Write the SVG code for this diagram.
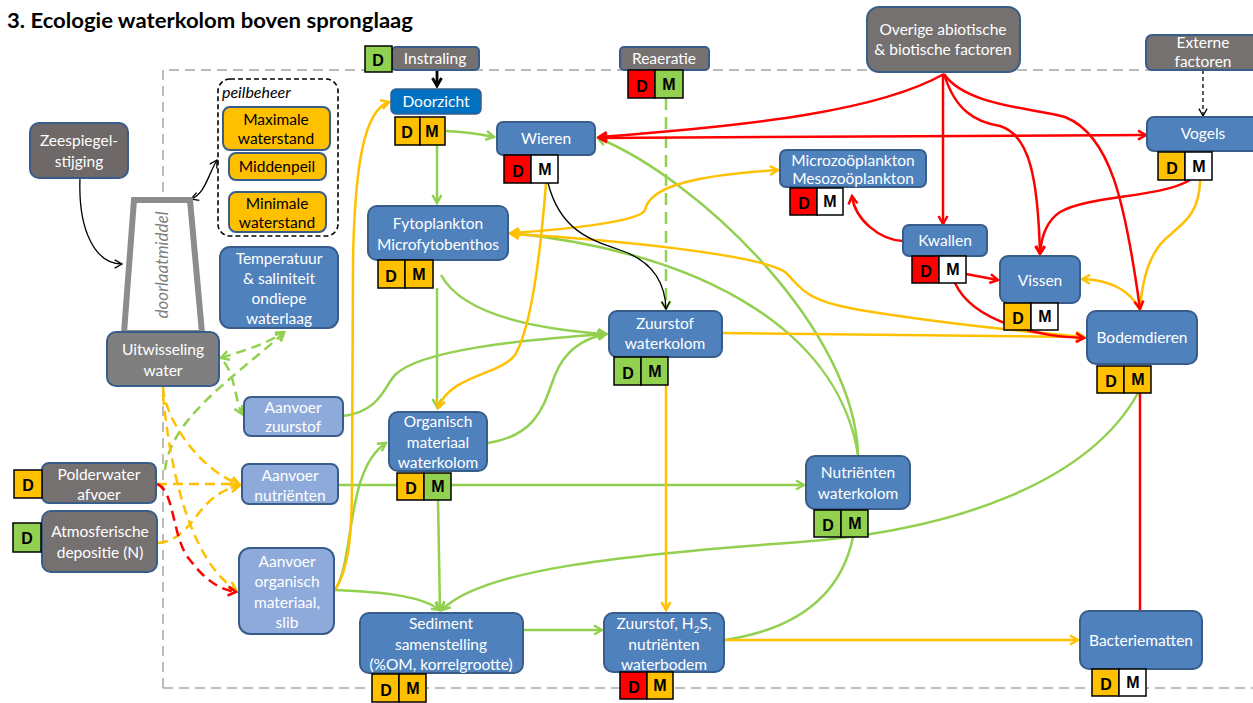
<svg xmlns="http://www.w3.org/2000/svg" width="1253" height="703" viewBox="0 0 1253 703">
<style>
.bg{fill:#fff}
.g{fill:none;stroke:#92d050;stroke-width:2.5}
.y{fill:none;stroke:#ffc000;stroke-width:2.5}
.r{fill:none;stroke:#ff0000;stroke-width:2.5}
.k{fill:none;stroke:#000;stroke-width:1.3}
.dash{stroke-dasharray:10 6}
.blue{fill:#4f81bd;stroke:#385d8a;stroke-width:2}
.lblue{fill:#8eaadb;stroke:#385d8a;stroke-width:2}
.gray{fill:#767171;stroke:#385d8a;stroke-width:2}
.org{fill:#ffc000;stroke:#385d8a;stroke-width:2}
.t{font-family:Lato,"Liberation Sans",sans-serif;font-size:15.5px;fill:#fff;text-anchor:middle}
.tk{font-family:Lato,"Liberation Sans",sans-serif;font-size:15.5px;fill:#000;text-anchor:middle}
.bx{stroke:#000;stroke-width:1.5}
.fo{fill:#ffc000}.fg{fill:#92d050}.fr{fill:#ff0000}.fw{fill:#fff}
.dm{font-family:"Liberation Sans",sans-serif;font-weight:bold;font-size:16px;fill:#000;text-anchor:middle}
</style>
<defs>
<marker id="ag" viewBox="0 0 12 12" refX="10" refY="6" markerWidth="12" markerHeight="12" markerUnits="userSpaceOnUse" orient="auto-start-reverse"><path d="M2,1.5 L10,6 L2,10.5" fill="none" stroke="#92d050" stroke-width="2.5"/></marker>
<marker id="ay" viewBox="0 0 12 12" refX="10" refY="6" markerWidth="12" markerHeight="12" markerUnits="userSpaceOnUse" orient="auto-start-reverse"><path d="M2,1.5 L10,6 L2,10.5" fill="none" stroke="#ffc000" stroke-width="2.5"/></marker>
<marker id="ar" viewBox="0 0 12 12" refX="10" refY="6" markerWidth="12" markerHeight="12" markerUnits="userSpaceOnUse" orient="auto-start-reverse"><path d="M2,1.5 L10,6 L2,10.5" fill="none" stroke="#ff0000" stroke-width="2.5"/></marker>
<marker id="ak" viewBox="0 0 12 12" refX="10" refY="6" markerWidth="11" markerHeight="11" markerUnits="userSpaceOnUse" orient="auto-start-reverse"><path d="M2,1.5 L10,6 L2,10.5" fill="none" stroke="#000" stroke-width="1.4"/></marker>
<marker id="akb" viewBox="0 0 12 12" refX="10" refY="6" markerWidth="12" markerHeight="12" markerUnits="userSpaceOnUse" orient="auto"><path d="M2,1.5 L10,6 L2,10.5" fill="none" stroke="#000" stroke-width="2.8"/></marker>
</defs>
<rect class="bg" x="0" y="0" width="1253" height="703"/>
<text x="7" y="28" font-family="Lato,'Liberation Sans',sans-serif" font-weight="bold" font-size="20.5" fill="#000" textLength="406" lengthAdjust="spacingAndGlyphs">3. Ecologie waterkolom boven spronglaag</text>

<g id="boundary">
<path d="M163,688 L163,70 L1253,70 M163,688 L1253,688" fill="none" stroke="#a6a6a6" stroke-width="1.5" stroke-dasharray="10 6"/>
</g>

<g id="connectors">
<!-- green -->
<path class="g" d="M446,131 Q470,132 494,137" marker-end="url(#ag)"/>
<path class="g" d="M437,145 L437,203" marker-end="url(#ag)"/>
<path class="g" d="M437,288 L437,407" marker-end="url(#ag)"/>
<path class="g" d="M441,275 C460,310 520,328 606,334" marker-end="url(#ag)"/>
<path class="g" d="M343,416 C380,412 385,385 395,375 C420,350 520,340 606,334" marker-end="url(#ag)"/>
<path class="g" d="M488,443 C540,435 545,400 555,375 C565,350 585,338 606,334" marker-end="url(#ag)"/>
<path class="g" d="M858,455 C855,330 700,180 598,138" marker-end="url(#ag)"/>
<path class="g" d="M858,455 C840,340 720,255 511,233" marker-end="url(#ag)"/>
<path class="g" d="M339,485 L804,485" marker-end="url(#ag)"/>
<path class="g" d="M335,590 C355,560 345,470 386,443" marker-end="url(#ag)"/>
<path class="g" d="M335,590 C380,592 420,595 440,610" marker-end="url(#ag)"/>
<path class="g" d="M438,500 L440,610" marker-end="url(#ag)"/>
<path class="g" d="M1138,393 C1090,480 960,530 800,542 C620,555 480,570 442,610" marker-end="url(#ag)"/>
<path class="g" d="M524,630 L602,630" marker-end="url(#ag)"/>
<path class="g" d="M853,537 C840,600 790,630 725,640"/>
<path class="g" d="M666,98 L666,309" stroke-dasharray="12 7" marker-end="url(#ag)"/>
<path class="g dash" d="M221,358 C245,350 265,345 284,332" marker-start="url(#ag)" marker-end="url(#ag)"/>
<path class="g dash" d="M165,470 C170,420 230,380 284,333" marker-end="url(#ag)"/>
<path class="g dash" d="M224,362 C235,375 235,400 242,414" marker-end="url(#ag)"/>
<!-- yellow -->
<path class="y dash" d="M163,387 C165,420 200,470 239,484" marker-end="url(#ay)"/>
<path class="y dash" d="M163,395 C170,470 190,560 236,590" marker-end="url(#ay)"/>
<path class="y dash" d="M157,484 L239,484" marker-end="url(#ay)"/>
<path class="y dash" d="M158,543 C195,540 195,495 239,486" marker-end="url(#ay)"/>
<path class="r dash" d="M157,484 C175,490 172,540 190,560 C205,580 220,590 236,592" marker-end="url(#ar)"/>
<path class="y" d="M335,590 C348,570 352,540 352,480 L353,260 C355,160 365,110 389,102" marker-end="url(#ay)"/>
<path class="y" d="M546,183 C540,260 530,330 515,355 C500,375 450,375 438,408" marker-end="url(#ay)"/>
<path class="y" d="M511,233 C560,230 640,222 645,210 C650,185 700,175 778,170" marker-start="url(#ay)" marker-end="url(#ay)"/>
<path class="y" d="M511,234 C620,240 760,255 785,272 C800,285 800,300 860,310 C950,325 1030,332 1084,337" marker-start="url(#ay)" marker-end="url(#ay)"/>
<path class="y" d="M723,333 L1084,337" marker-end="url(#ay)"/>
<path class="y" d="M666,385 L666,610" marker-end="url(#ay)"/>
<path class="y" d="M725,640 L1078,640" marker-end="url(#ay)"/>
<path class="y" d="M1140,310 C1130,290 1110,280 1082,279" marker-end="url(#ay)"/>
<path class="y" d="M1200,180 C1200,215 1180,225 1170,235 C1150,250 1142,280 1140,310"/>
<!-- red -->
<path class="r" d="M944,74 C880,110 760,125 599,137" marker-end="url(#ar)"/>
<path class="r" d="M599,138 L1146,135" marker-start="url(#ar)" marker-end="url(#ar)"/>
<path class="r" d="M943,74 L943,224" marker-end="url(#ar)"/>
<path class="r" d="M944,74 C955,110 975,122 1000,126 C1030,135 1038,180 1040,254" marker-end="url(#ar)"/>
<path class="r" d="M944,74 C965,105 1030,108 1065,117 C1110,135 1125,200 1140,309" marker-end="url(#ar)"/>
<path class="r" d="M1190,180 C1160,198 1090,195 1060,212 C1045,222 1041,240 1040,254" marker-end="url(#ar)"/>
<path class="r" d="M903,241 C880,240 855,220 852,196" marker-end="url(#ar)"/>
<path class="r" d="M966,274 L998,280" marker-end="url(#ar)"/>
<path class="r" d="M955,283 C965,305 990,318 1010,325 C1040,335 1060,337 1084,338" marker-end="url(#ar)"/>
<path class="r" d="M1140,393 L1140,611"/>
<!-- black -->
<path d="M437,70 L437,86" fill="none" stroke="#000" stroke-width="2.8" marker-end="url(#akb)"/>
<path class="k" d="M548,183 C560,230 590,240 620,250 C650,260 665,280 666,309" marker-end="url(#ak)"/>
<path class="k" d="M80,178 C78,230 95,264 122,264" marker-end="url(#ak)"/>
<path class="k" d="M191,199 C205,194 208,175 217,160" marker-start="url(#ak)" marker-end="url(#ak)"/>
<path class="k" d="M1203,70 L1203,116" stroke-dasharray="4 3" marker-end="url(#ak)"/>
</g>

<g id="doorlaatmiddel">
<polygon points="134,200 190,200 202,333 124,333" fill="#fff" stroke="#8c8c8c" stroke-width="6"/>
<text transform="translate(168,265) rotate(-90)" font-family="Lato,'Liberation Sans',sans-serif" font-style="italic" font-size="17" fill="#7f7f7f" text-anchor="middle">doorlaatmiddel</text>
</g>

<g id="zeespiegel"><rect class="gray" x="30" y="123" width="98" height="55" rx="9" style="fill:#6e6868"/><text class="t" x="79" y="146">Zeespiegel-</text><text class="t" x="79" y="167">stijging</text></g>

<g id="uitwisseling"><rect class="gray" x="107" y="332" width="112" height="54" rx="9" style="fill:#7f7f7f"/><text class="t" x="163" y="355">Uitwisseling</text><text class="t" x="163" y="376">water</text></g>

<g id="peilbeheer">
<rect x="218" y="79" width="120" height="157" rx="12" fill="none" stroke="#000" stroke-width="1.6" stroke-dasharray="5 3"/>
<text x="222" y="98" font-family="Lato,'Liberation Sans',sans-serif" font-style="italic" font-size="16" fill="#000">peilbeheer</text>
</g>
<g id="maximale"><rect class="org" x="223" y="107" width="107" height="43" rx="7"/><text class="tk" x="276" y="125">Maximale</text><text class="tk" x="276" y="144">waterstand</text></g>
<g id="middenpeil"><rect class="org" x="229" y="153" width="97" height="27" rx="7"/><text class="tk" x="277" y="172">Middenpeil</text></g>
<g id="minimale"><rect class="org" x="229" y="192" width="97" height="40" rx="7"/><text class="tk" x="277" y="209">Minimale</text><text class="tk" x="277" y="228">waterstand</text></g>

<g id="temperatuur"><rect class="blue" x="220" y="247" width="118" height="81" rx="10"/><text class="t" x="279" y="264">Temperatuur</text><text class="t" x="279" y="284">&amp; saliniteit</text><text class="t" x="279" y="304">ondiepe</text><text class="t" x="279" y="324">waterlaag</text></g>

<g id="instraling"><rect class="gray" x="392" y="47" width="87" height="23" rx="4"/><text class="t" x="435" y="64">Instraling</text><rect class="bx fg" x="365" y="46" width="27" height="26"/><text class="dm" x="378" y="66">D</text></g>

<g id="doorzicht"><rect x="391" y="89" width="90" height="25" rx="5" fill="#0070c0" stroke="#385d8a" stroke-width="1.5"/><text class="t" x="436" y="107">Doorzicht</text>
<rect class="bx fo" x="395" y="117" width="25" height="28"/><rect class="bx fo" x="420" y="117" width="25" height="28"/><text class="dm" x="407" y="138">D</text><text class="dm" x="432" y="137">M</text></g>

<g id="reaeratie"><rect class="gray" x="620" y="47" width="89" height="23" rx="4"/><text class="t" x="664" y="64">Reaeratie</text>
<rect class="bx fr" x="628" y="70" width="27" height="28"/><rect class="bx fg" x="655" y="70" width="28" height="28"/><text class="dm" x="642" y="92">D</text><text class="dm" x="669" y="90">M</text></g>

<g id="wieren"><rect class="blue" x="497" y="122" width="98" height="33" rx="6"/><text class="t" x="546" y="144">Wieren</text>
<rect class="bx fr" x="504" y="155" width="27" height="28"/><rect class="bx fw" x="531" y="155" width="27" height="28"/><text class="dm" x="518" y="177">D</text><text class="dm" x="545" y="175">M</text></g>

<g id="fytoplankton"><rect class="blue" x="368" y="206" width="140" height="54" rx="9"/><text class="t" x="438" y="229">Fytoplankton</text><text class="t" x="438" y="250">Microfytobenthos</text>
<rect class="bx fo" x="378" y="260" width="27" height="28"/><rect class="bx fo" x="405" y="260" width="28" height="28"/><text class="dm" x="391" y="282">D</text><text class="dm" x="419" y="280">M</text></g>

<g id="zooplankton"><rect class="blue" x="780" y="150" width="146" height="37" rx="6"/><text class="t" x="853" y="166">Microzoöplankton</text><text class="t" x="853" y="184">Mesozoöplankton</text>
<rect class="bx fr" x="790" y="188" width="27" height="27"/><rect class="bx fw" x="817" y="188" width="26" height="27"/><text class="dm" x="804" y="209">D</text><text class="dm" x="830" y="207">M</text></g>

<g id="overige"><rect class="gray" x="867" y="7" width="153" height="65" rx="12"/><text class="t" x="943" y="35">Overige abiotische</text><text class="t" x="943" y="55">&amp; biotische factoren</text></g>

<g id="externe"><rect class="gray" x="1146" y="35" width="115" height="35" rx="6"/><text class="t" x="1203" y="48">Externe</text><text class="t" x="1203" y="67">factoren</text></g>

<g id="vogels"><rect class="blue" x="1147" y="117" width="115" height="34" rx="7"/><text class="t" x="1203" y="139">Vogels</text>
<rect class="bx fo" x="1158" y="152" width="27" height="28"/><rect class="bx fw" x="1185" y="152" width="27" height="28"/><text class="dm" x="1172" y="174">D</text><text class="dm" x="1199" y="172">M</text></g>

<g id="kwallen"><rect class="blue" x="903" y="225" width="84" height="31" rx="6"/><text class="t" x="945" y="246">Kwallen</text>
<rect class="bx fr" x="912" y="256" width="27" height="27"/><rect class="bx fw" x="939" y="256" width="27" height="27"/><text class="dm" x="926" y="277">D</text><text class="dm" x="953" y="275">M</text></g>

<g id="vissen"><rect class="blue" x="1000" y="256" width="80" height="47" rx="8"/><text class="t" x="1040" y="286">Vissen</text>
<rect class="bx fo" x="1004" y="303" width="27" height="27"/><rect class="bx fw" x="1031" y="303" width="27" height="27"/><text class="dm" x="1018" y="324">D</text><text class="dm" x="1045" y="322">M</text></g>

<g id="bodemdieren"><rect class="blue" x="1087" y="311" width="110" height="53" rx="9"/><text class="t" x="1142" y="343">Bodemdieren</text>
<rect class="bx fo" x="1097" y="366" width="27" height="27"/><rect class="bx fo" x="1124" y="366" width="27" height="27"/><text class="dm" x="1111" y="387">D</text><text class="dm" x="1138" y="385">M</text></g>

<g id="zuurstof-waterkolom"><rect class="blue" x="609" y="311" width="113" height="46" rx="8"/><text class="t" x="665" y="329">Zuurstof</text><text class="t" x="665" y="349">waterkolom</text>
<rect class="bx fg" x="614" y="357" width="27" height="28"/><rect class="bx fg" x="641" y="357" width="27" height="28"/><text class="dm" x="628" y="379">D</text><text class="dm" x="655" y="377">M</text></g>

<g id="aanvoer-zuurstof"><rect class="lblue" x="244" y="397" width="99" height="39" rx="7"/><text class="t" x="293" y="413">Aanvoer</text><text class="t" x="293" y="432">zuurstof</text></g>

<g id="organisch-materiaal"><rect class="blue" x="389" y="412" width="98" height="59" rx="9"/><text class="t" x="438" y="427">Organisch</text><text class="t" x="438" y="448">materiaal</text><text class="t" x="438" y="468">waterkolom</text>
<rect class="bx fo" x="397" y="473" width="27" height="27"/><rect class="bx fg" x="424" y="473" width="27" height="27"/><text class="dm" x="411" y="494">D</text><text class="dm" x="438" y="492">M</text></g>

<g id="aanvoer-nutrienten"><rect class="lblue" x="242" y="464" width="96" height="40" rx="7"/><text class="t" x="290" y="481">Aanvoer</text><text class="t" x="290" y="501">nutriënten</text></g>

<g id="nutrienten-waterkolom"><rect class="blue" x="806" y="456" width="104" height="53" rx="9"/><text class="t" x="858" y="478">Nutriënten</text><text class="t" x="858" y="499">waterkolom</text>
<rect class="bx fg" x="814" y="510" width="27" height="27"/><rect class="bx fg" x="841" y="510" width="27" height="27"/><text class="dm" x="828" y="531">D</text><text class="dm" x="855" y="529">M</text></g>

<g id="polderwater"><rect class="gray" x="42" y="463" width="114" height="40" rx="7"/><text class="t" x="99" y="480">Polderwater</text><text class="t" x="99" y="500">afvoer</text>
<rect class="bx fo" x="14" y="470" width="28" height="28"/><text class="dm" x="28" y="491">D</text></g>

<g id="atmosferische"><rect class="gray" x="42" y="511" width="115" height="61" rx="9"/><text class="t" x="100" y="537">Atmosferische</text><text class="t" x="100" y="558">depositie (N)</text>
<rect class="bx fg" x="13" y="523" width="28" height="29"/><text class="dm" x="27" y="544">D</text></g>

<g id="aanvoer-organisch"><rect class="lblue" x="239" y="548" width="95" height="86" rx="11"/><text class="t" x="287" y="567">Aanvoer</text><text class="t" x="287" y="587">organisch</text><text class="t" x="287" y="608">materiaal,</text><text class="t" x="287" y="628">slib</text></g>

<g id="sediment"><rect class="blue" x="360" y="613" width="163" height="60" rx="9"/><text class="t" x="441" y="629">Sediment</text><text class="t" x="441" y="650">samenstelling</text><text class="t" x="441" y="670">(%OM, korrelgrootte)</text>
<rect class="bx fo" x="372" y="674" width="27" height="28"/><rect class="bx fo" x="399" y="674" width="27" height="28"/><text class="dm" x="386" y="696">D</text><text class="dm" x="413" y="694">M</text></g>

<g id="zuurstof-waterbodem"><rect class="blue" x="604" y="613" width="120" height="59" rx="9"/><text class="t" x="664" y="629">Zuurstof, H<tspan font-size="10" dy="4">2</tspan><tspan dy="-4">S,</tspan></text><text class="t" x="664" y="650">nutriënten</text><text class="t" x="664" y="670">waterbodem</text>
<rect class="bx fr" x="620" y="672" width="27" height="27"/><rect class="bx fo" x="647" y="672" width="26" height="27"/><text class="dm" x="634" y="693">D</text><text class="dm" x="660" y="691">M</text></g>

<g id="bacteriematten"><rect class="blue" x="1080" y="611" width="122" height="58" rx="9"/><text class="t" x="1141" y="646">Bacteriematten</text>
<rect class="bx fo" x="1092" y="669" width="27" height="27"/><rect class="bx fw" x="1119" y="669" width="27" height="27"/><text class="dm" x="1106" y="690">D</text><text class="dm" x="1133" y="688">M</text></g>
</svg>
